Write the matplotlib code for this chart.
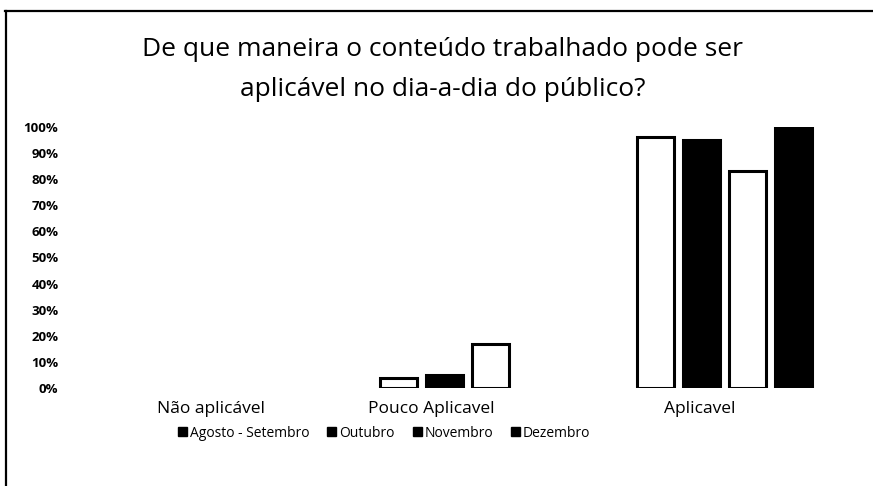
import matplotlib
matplotlib.use("Agg")
import matplotlib.pyplot as plt
import matplotlib.transforms as mtransforms
from matplotlib.lines import Line2D
from matplotlib.patches import Patch
import numpy as np

plt.rcParams['font.family'] = ['Open Sans', 'DejaVu Sans']

categories = ["Não aplicável", "Pouco Aplicavel", "Aplicavel"]
series_names = ["Agosto - Setembro", "Outubro", "Novembro", "Dezembro"]
agosto_setembro = [0.00, 0.04, 0.96]
outubro = [0.00, 0.05, 0.95]
novembro = [0.00, 0.17, 0.83]
dezembro = [0.00, 0.00, 1.00]
yticks = [0.0, 0.1, 0.2, 0.3, 0.4, 0.5, 0.6, 0.7, 0.8, 0.9, 1.0]
ytick_labels = ["0%", "10%", "20%", "30%", "40%", "50%", "60%", "70%", "80%", "90%", "100%"]

series = [agosto_setembro, outubro, novembro, dezembro]
fills = ["white", "black", "white", "black"]

fig = plt.figure(figsize=(8.73, 4.86), dpi=100)
ax = fig.add_axes([0.094, 0.2016, 0.883, 0.5374])

x = np.arange(len(categories))
step = 0.179
width = 0.144
for i, (vals, fc) in enumerate(zip(series, fills)):
    lw = [2.2 if v > 0 else 0 for v in vals]
    ax.bar(x + (i - 1.5) * step, vals, width=width, color=fc,
           edgecolor="black", linewidth=lw, zorder=3)

ax.set_xlim(-0.5, 2.5)
ax.set_ylim(0, 1.0)
ax.set_yticks(yticks)
ax.set_yticklabels(ytick_labels, fontsize=9.5, fontweight="bold")
ax.set_xticks(x)
ax.set_xticklabels(categories, fontsize=12.5)
ax.tick_params(axis="both", length=0)
ax.tick_params(axis="y", pad=17)
ax.tick_params(axis="x", pad=9)
for s in ax.spines.values():
    s.set_visible(False)

# category labels sit slightly left of their bar groups
shifts_pt = [0, -26, -18]
for lbl, dx in zip(ax.get_xticklabels(), shifts_pt):
    lbl.set_transform(lbl.get_transform() + mtransforms.ScaledTranslation(dx / 72, 0, fig.dpi_scale_trans))

fig.text(0.507, 0.857, "De que maneira o conteúdo trabalhado pode ser\naplicável no dia-a-dia do público?",
         ha="center", va="center", fontsize=19, linespacing=1.75)

handles = [Patch(facecolor="black", edgecolor="black") for _ in series_names]
fig.legend(handles, series_names, loc="center", bbox_to_anchor=(0.44, 0.109),
           ncol=4, frameon=False, fontsize=10, handlelength=0.65, handleheight=0.65,
           handletextpad=0.2, columnspacing=1.3)

# outer frame (top and left edges)
fig.add_artist(Line2D([5 / 873, 1.0], [1 - 11.5 / 486, 1 - 11.5 / 486],
                      transform=fig.transFigure, color="black", linewidth=1.6))
fig.add_artist(Line2D([5.5 / 873, 5.5 / 873], [0.0, 1 - 11.5 / 486],
                      transform=fig.transFigure, color="black", linewidth=1.6))

fig.savefig("out.png", dpi=100)
